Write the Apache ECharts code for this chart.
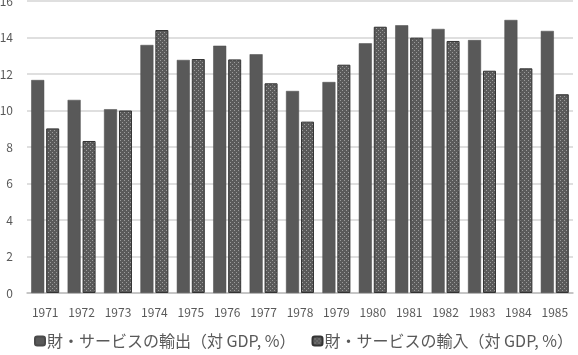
<!DOCTYPE html>
<html>
<head>
<meta charset="utf-8">
<script src="https://cdn.jsdelivr.net/npm/echarts@6/dist/echarts.min.js"></script>
<style>
  html, body { margin: 0; padding: 0; background: #fff; }
  #chart { width: 578px; height: 355px; }
</style>
</head>
<body>
<div id="chart"></div>
<script>
const years = ['1971','1972','1973','1974','1975','1976','1977','1978','1979','1980','1981','1982','1983','1984','1985'];
const exportsPct = [11.67, 10.58, 10.07, 13.59, 12.77, 13.55, 13.08, 11.07, 11.56, 13.68, 14.67, 14.47, 13.86, 14.96, 14.36];
const importsPct = [9.02, 8.33, 10.0, 14.41, 12.82, 12.8, 11.49, 9.39, 12.51, 14.59, 13.99, 13.81, 12.18, 12.31, 10.89];
const exportName = '財・サービスの輸出（対 GDP, %）';
const importName = '財・サービスの輸入（対 GDP, %）';

// dotted fill for the import bars
function dotPattern() {
    const c = document.createElement('canvas');
    c.width = 4; c.height = 4;
    const g = c.getContext('2d');
    g.fillStyle = '#5a5a5a';
    g.fillRect(0, 0, 4, 4);
    g.fillStyle = '#9c9c9c';
    g.fillRect(0, 0, 1, 1);
    g.fillRect(2, 2, 1, 1);
    return c;
}

const chart = echarts.init(document.getElementById('chart'), null, { renderer: 'canvas' });
const font = '"Noto Sans CJK JP", "Noto Sans", sans-serif';

chart.setOption({
    animation: false,
    textStyle: { fontFamily: font },
    grid: { left: 27, right: 5, top: 1, bottom: 62, outerBoundsMode: 'none', containLabel: false },
    legend: {
        top: 333,
        left: 34,
        padding: 0,
        itemWidth: 10, itemHeight: 9, itemGap: 16,
        textStyle: { fontSize: 16, color: '#595959', fontFamily: font, padding: [0, 0, 0, -3] },
        data: [exportName, importName]
    },
    xAxis: {
        type: 'category',
        data: years,
        axisLine: { lineStyle: { color: '#bfbfbf', width: 1.5 } },
        axisTick: { show: false },
        axisLabel: { fontSize: 12, color: '#595959', margin: 13 }
    },
    yAxis: {
        type: 'value',
        min: 0, max: 16, interval: 2,
        axisLine: { show: false },
        axisTick: { show: false },
        axisLabel: { fontSize: 12, color: '#595959', margin: 14 },
        splitLine: { lineStyle: { color: '#d4d4d4', width: 1.5 } }
    },
    series: [
        {
            name: exportName,
            type: 'bar',
            data: exportsPct,
            barWidth: 13,
            barGap: '15%',
            itemStyle: { color: '#595959', borderColor: '#4a4a4a', borderWidth: 0.5 }
        },
        {
            name: importName,
            type: 'bar',
            data: importsPct,
            barWidth: 13,
            itemStyle: {
                color: { image: dotPattern(), repeat: 'repeat' },
                borderColor: '#333333', borderWidth: 1
            }
        }
    ]
});
</script>
</body>
</html>
